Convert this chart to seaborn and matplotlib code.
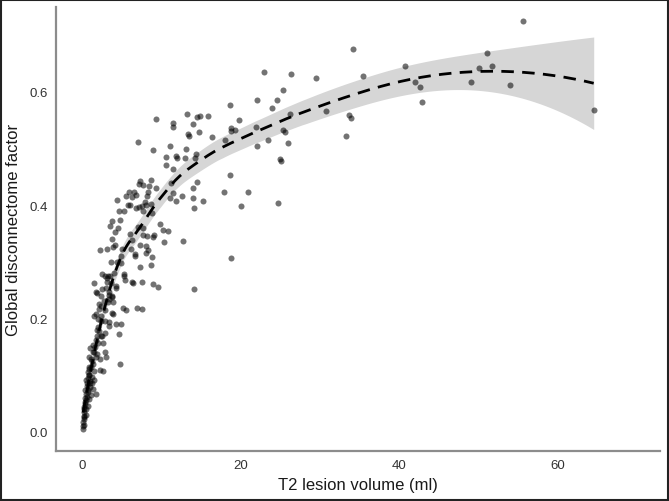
import numpy as np
import pandas as pd
import matplotlib
matplotlib.use("Agg")
import matplotlib.pyplot as plt
import seaborn as sns

# ---- data ----
lesion_volume = [
    55.6, 64.5, 34.1, 51.0, 50.0, 51.7, 40.7, 49.0, 54.0, 41.9, 42.6, 42.9, 35.4, 29.5, 26.3,
    22.9, 30.7, 33.6, 33.9, 33.2, 25.3, 24.6, 23.96, 22.05, 26.2, 21.9, 22.0, 23.4, 25.3, 25.5,
    26.0, 24.9, 25.0, 24.7, 18.6, 19.8, 19.3, 18.7, 18.7, 18.0, 16.3, 15.9, 14.8, 14.5, 13.2,
    14.0, 14.7, 13.3, 13.5, 13.1, 13.0, 14.2, 14.3, 11.4, 11.4, 9.3, 11.0, 10.6, 10.6, 11.4,
    11.8, 12.0, 8.9, 7.0, 18.6, 17.9, 20.9, 20.0, 18.7, 15.2, 14.1, 14.0, 14.5, 14.0, 14.1,
    12.7, 12.6, 11.8, 11.4, 11.0, 11.2, 10.8, 10.2, 9.8, 10.3, 9.3, 8.7, 8.4, 8.1, 7.9,
    8.0, 8.8, 8.7, 7.3, 7.1, 7.1, 7.5, 6.8, 6.5, 6.3, 5.9, 5.5, 5.7, 4.4, 6.0,
    6.3, 7.0, 7.6, 7.7, 8.2, 9.0, 8.9, 7.3, 8.0, 8.3, 8.0, 6.7, 6.6, 8.8, 8.6,
    7.3, 5.0, 6.1, 4.8, 3.8, 3.5, 4.5, 4.1, 3.8, 4.1, 3.9, 4.9, 4.4, 4.9, 3.1,
    2.2, 5.3, 5.3, 5.4, 6.2, 6.4, 7.5, 8.9, 6.9, 5.1, 4.8, 4.3, 4.9, 4.6, 4.3,
    4.3, 3.7, 3.8, 3.9, 3.6, 3.1, 2.5, 2.9, 3.2, 3.5, 2.5, 3.0, 3.4, 3.3, 3.4,
    3.2, 3.7, 3.9, 3.3, 3.4, 2.9, 2.8, 2.5, 2.6, 2.9, 3.0, 2.6, 2.2, 1.5, 1.7,
    1.9, 2.3, 2.1, 2.4, 2.1, 1.7, 1.5, 2.3, 2.0, 2.4, 1.8, 2.1, 1.9, 2.3, 1.7,
    2.0, 1.4, 1.5, 1.9, 1.7, 2.2, 1.0, 0.85, 1.15, 1.4, 1.15, 1.45, 0.75, 0.85, 1.25,
    1.5, 1.25, 1.35, 1.7, 1.0, 0.75, 0.5, 0.55, 0.85, 0.35, 0.65, 0.4, 0.25, 0.15, 0.25,
    0.1, 0.1, 0.1, 0.2, 0.45, 0.95, 1.1, 0.25, 0.5, 0.3, 0.65, 0.85, 5.2, 4.6, 6.0,
    7.6, 8.3, 7.7, 6.8, 9.6, 7.5, 5.5, 0.3, 0.6, 0.9, 1.2, 0.4, 0.7, 1.0, 0.2,
    2.7, 3.1, 2.0, 1.6, 0.8, 1.3, 3.6, 4.0, 2.8, 0.15, 0.35, 0.55,
]
disconnectome = [
    0.725, 0.568, 0.675, 0.669, 0.642, 0.646, 0.645, 0.617, 0.613, 0.618, 0.609, 0.582, 0.628, 0.625, 0.632,
    0.635, 0.567, 0.560, 0.554, 0.523, 0.603, 0.586, 0.571, 0.585, 0.561, 0.538, 0.504, 0.515, 0.532, 0.529,
    0.510, 0.482, 0.478, 0.403, 0.577, 0.551, 0.533, 0.536, 0.531, 0.515, 0.521, 0.558, 0.557, 0.555, 0.561,
    0.543, 0.530, 0.525, 0.522, 0.499, 0.483, 0.483, 0.491, 0.545, 0.538, 0.552, 0.505, 0.485, 0.471, 0.463,
    0.486, 0.483, 0.497, 0.511, 0.454, 0.424, 0.424, 0.399, 0.307, 0.408, 0.395, 0.431, 0.441, 0.412, 0.251,
    0.337, 0.417, 0.408, 0.421, 0.412, 0.439, 0.355, 0.356, 0.367, 0.335, 0.430, 0.445, 0.434, 0.417, 0.406,
    0.400, 0.386, 0.402, 0.443, 0.437, 0.396, 0.399, 0.395, 0.423, 0.415, 0.423, 0.417, 0.400, 0.409, 0.349,
    0.338, 0.362, 0.360, 0.347, 0.346, 0.347, 0.343, 0.330, 0.328, 0.320, 0.315, 0.313, 0.310, 0.308, 0.294,
    0.290, 0.323, 0.323, 0.374, 0.372, 0.363, 0.360, 0.352, 0.341, 0.329, 0.326, 0.311, 0.299, 0.298, 0.323,
    0.320, 0.278, 0.274, 0.268, 0.265, 0.263, 0.265, 0.260, 0.219, 0.218, 0.119, 0.190, 0.190, 0.173, 0.257,
    0.253, 0.240, 0.237, 0.228, 0.262, 0.271, 0.279, 0.274, 0.274, 0.275, 0.251, 0.253, 0.246, 0.241, 0.235,
    0.228, 0.210, 0.207, 0.193, 0.186, 0.195, 0.174, 0.168, 0.156, 0.141, 0.132, 0.107, 0.108, 0.263, 0.247,
    0.245, 0.240, 0.226, 0.222, 0.216, 0.207, 0.204, 0.204, 0.199, 0.195, 0.180, 0.177, 0.169, 0.169, 0.162,
    0.156, 0.153, 0.141, 0.137, 0.131, 0.129, 0.147, 0.132, 0.129, 0.120, 0.114, 0.107, 0.105, 0.100, 0.097,
    0.091, 0.085, 0.076, 0.066, 0.079, 0.073, 0.067, 0.061, 0.058, 0.052, 0.046, 0.040, 0.034, 0.028, 0.022,
    0.016, 0.010, 0.004, 0.025, 0.091, 0.085, 0.064, 0.043, 0.055, 0.073, 0.094, 0.114, 0.389, 0.389, 0.400,
    0.389, 0.424, 0.436, 0.418, 0.256, 0.216, 0.214, 0.060, 0.080, 0.110, 0.125, 0.030, 0.070, 0.090, 0.040,
    0.230, 0.265, 0.185, 0.150, 0.100, 0.140, 0.300, 0.280, 0.215, 0.012, 0.048, 0.085,
]

x_label = "T2 lesion volume (ml)"
y_label = "Global disconnectome factor"
x_ticks = [0, 20, 40, 60]
y_ticks = [0.0, 0.2, 0.4, 0.6]

df = pd.DataFrame({"vol": lesion_volume, "gdf": disconnectome})

# ---- loess smooth (degree 2, span 0.75, tricube weights) with 95% CI ----
xv = df["vol"].to_numpy(float)
yv = df["gdf"].to_numpy(float)
n = len(xv)
span = 0.75
q = int(np.floor(n * span))


def loess_weights_row(x0):
    d = np.abs(xv - x0)
    h = np.sort(d)[q - 1]
    u = np.clip(d / h, 0, 1)
    w = (1 - u**3) ** 3
    B = np.column_stack([np.ones(n), xv - x0, (xv - x0) ** 2])
    BW = B * w[:, None]
    A = np.linalg.pinv(B.T @ BW)
    return (A @ BW.T)[0]  # row of the smoother matrix


Lmat = np.array([loess_weights_row(x0) for x0 in xv])
resid = yv - Lmat @ yv
I = np.eye(n)
M = (I - Lmat).T @ (I - Lmat)
delta1 = np.trace(M)
delta2 = np.trace(M @ M)
s2 = resid @ resid / delta1
tq = 1.97

grid = np.linspace(xv.min(), xv.max(), 250)
rows = np.array([loess_weights_row(g) for g in grid])
fit = rows @ yv
se = np.sqrt(s2 * np.sum(rows**2, axis=1))
fit_df = pd.DataFrame({"vol": grid, "fit": fit, "lo": fit - tq * se, "hi": fit + tq * se})

# ---- figure ----
sns.set_theme(style="white")
plt.rcParams["font.family"] = ["Liberation Sans", "DejaVu Sans"]

fig = plt.figure(figsize=(6.69, 5.02), dpi=100)
ax = fig.add_axes([0.084, 0.1, 0.903, 0.884])

ax.fill_between(fit_df["vol"], fit_df["lo"], fit_df["hi"], color="#d6d6d6", linewidth=0, zorder=1)
sns.scatterplot(data=df, x="vol", y="gdf", ax=ax, color="black", alpha=0.55,
                s=19, linewidth=0, zorder=3)
sns.lineplot(data=fit_df, x="vol", y="fit", ax=ax, color="black", linewidth=2.0,
             linestyle=(0, (4.5, 3)), zorder=4)

ax.set_xlim(-3.3, 72.9)
ax.set_ylim(-0.034, 0.75)
ax.set_xticks(x_ticks)
ax.set_xticklabels([str(t) for t in x_ticks])
ax.set_yticks(y_ticks)
ax.set_yticklabels([f"{t:.1f}" for t in y_ticks])
ax.tick_params(axis="both", length=0, labelsize=9.5, labelcolor="#333333", pad=6)

ax.set_xlabel(x_label, fontsize=12, color="#1a1a1a", labelpad=4)
ax.set_ylabel(y_label, fontsize=12, color="#1a1a1a", labelpad=6)

for side in ["top", "right"]:
    ax.spines[side].set_visible(False)
for side in ["left", "bottom"]:
    ax.spines[side].set_color("#8c8c8c")
    ax.spines[side].set_linewidth(1.6)

# outer frame around the figure
fig.patches.append(plt.Rectangle((0.001, 0.001), 0.997, 0.997, transform=fig.transFigure,
                                 fill=False, edgecolor="#222222", linewidth=1.5))

fig.savefig("out.png", dpi=100)
